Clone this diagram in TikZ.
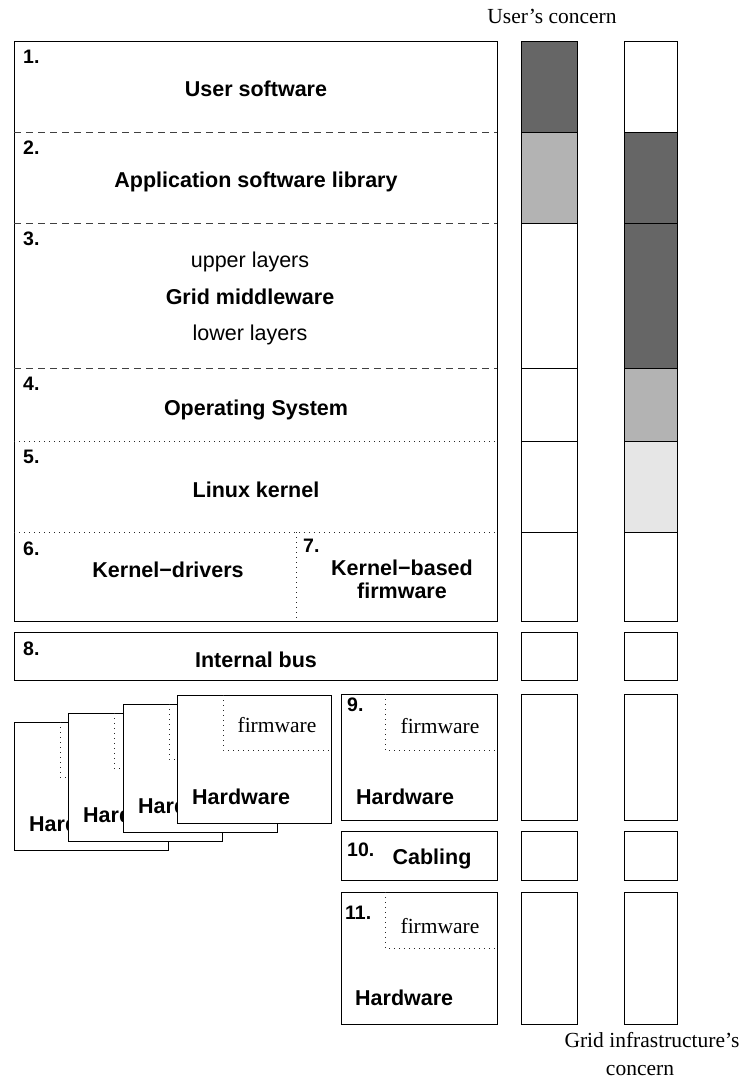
\documentclass[tikz,border=0pt]{standalone}
\usepackage{fontspec}
\setmainfont{Liberation Serif}
\setsansfont{Liberation Sans}
\definecolor{darkfill}{HTML}{666666}
\definecolor{midfill}{HTML}{B3B3B3}
\definecolor{lightfill}{HTML}{E6E6E6}
\begin{document}
\begin{tikzpicture}[x=1pt,y=-1pt,
  frame/.style={draw=black, line width=0.9pt},
  sepdash/.style={draw=black!75, line width=0.8pt, dash pattern=on 7pt off 5pt},
  sepdot/.style={draw=black!85, line width=0.9pt, dash pattern=on 0.9pt off 4.1pt},
  title/.style={font=\sffamily\bfseries\fontsize{21.5}{25}\selectfont, inner sep=0pt, anchor=base},
  sub/.style={font=\sffamily\fontsize{21.5}{25}\selectfont, inner sep=0pt, anchor=base},
  num/.style={font=\sffamily\bfseries\fontsize{19.5}{22}\selectfont, inner sep=0pt, anchor=base west},
  note/.style={font=\rmfamily\fontsize{21.5}{25}\selectfont, inner sep=0pt, anchor=base},
]
\useasboundingbox (0,0) rectangle (741,1079);

% ---- software stack ----
\draw[frame] (14,41) rectangle (497,621);
\draw[sepdash] (14,132) -- (497,132);
\draw[sepdash] (14,223) -- (497,223);
\draw[sepdash] (14,368) -- (497,368);
\draw[sepdot] (14,441) -- (497,441);
\draw[sepdot] (14,532) -- (497,532);
\draw[sepdot] (296,532) -- (296,621);

\node[num] (n1) at (23,63) {1.};
\node[title] (usersw) at (256,96) {User software};
\node[num] (n2) at (23,154) {2.};
\node[title] (applib) at (256,187) {Application software library};
\node[num] (n3) at (23,245) {3.};
\node[sub] (upper) at (250,267) {upper layers};
\node[title] (gridmw) at (250,304) {Grid middleware};
\node[sub] (lower) at (250,340) {lower layers};
\node[num] (n4) at (23,390) {4.};
\node[title] (os) at (256,415) {Operating System};
\node[num] (n5) at (23,463) {5.};
\node[title] (kernel) at (256,497) {Linux kernel};
\node[num] (n6) at (23,555) {6.};
\node[title] (drivers) at (168,577) {Kernel−drivers};
\node[num] (n7) at (303,552) {7.};
\node[title] (kfw) at (402,575) {Kernel−based};
\node[title] (kfw2) at (402,598) {firmware};

% ---- internal bus ----
\draw[frame] (14,632) rectangle (497,680);
\node[num] (n8) at (23,655) {8.};
\node[title] (bus) at (256,667) {Internal bus};

% ---- stacked hardware cards, back to front ----
\foreach \i/\x/\y in {a/14/722, b/68/713, c/123/704, d/177/695} {
  \filldraw[frame, fill=white] (\x,\y) rectangle ++(154,128);
  \draw[sepdot] (\x+46,\y) -- (\x+46,\y+55) -- (\x+154,\y+55);
  \node[title, anchor=base west] (hw\i) at (\x+15,\y+109) {Hardware};
}
\node[note] (fwd) at (277,732) {firmware};

% ---- hardware 9 ----
\draw[frame] (341,694) rectangle (497,820);
\draw[sepdot] (385,694) -- (385,750) -- (497,750);
\node[num] (n9) at (347,711) {9.};
\node[note] (fw9) at (440,733) {firmware};
\node[title, anchor=base west] (hw9) at (356,804) {Hardware};

% ---- cabling ----
\draw[frame] (341,831) rectangle (497,880);
\node[num] (n10) at (347,856) {10.};
\node[title] (cab) at (432,864) {Cabling};

% ---- hardware 11 ----
\draw[frame] (341,892) rectangle (497,1024);
\draw[sepdot] (385,892) -- (385,948) -- (497,948);
\node[num] (n11) at (345,919) {11.};
\node[note] (fw11) at (440,933) {firmware};
\node[title, anchor=base west] (hw11) at (355,1005) {Hardware};

% ---- concern columns ----
\foreach \ya/\yb/\c in {41/132/darkfill, 132/223/midfill, 223/368/white, 368/441/white,
                        441/532/white, 532/621/white, 632/680/white, 694/820/white,
                        831/880/white, 892/1024/white}
  \filldraw[frame, fill=\c] (521,\ya) rectangle (577,\yb);
\foreach \ya/\yb/\c in {41/132/white, 132/223/darkfill, 223/368/darkfill, 368/441/midfill,
                        441/532/lightfill, 532/621/white, 632/680/white, 694/820/white,
                        831/880/white, 892/1024/white}
  \filldraw[frame, fill=\c] (624,\ya) rectangle (677,\yb);

\node[note] (userc) at (552,23) {User’s concern};
\node[note] (gridc) at (652,1047) {Grid infrastructure’s};
\node[note] (gridc2) at (640,1075) {concern};
\end{tikzpicture}
\end{document}
